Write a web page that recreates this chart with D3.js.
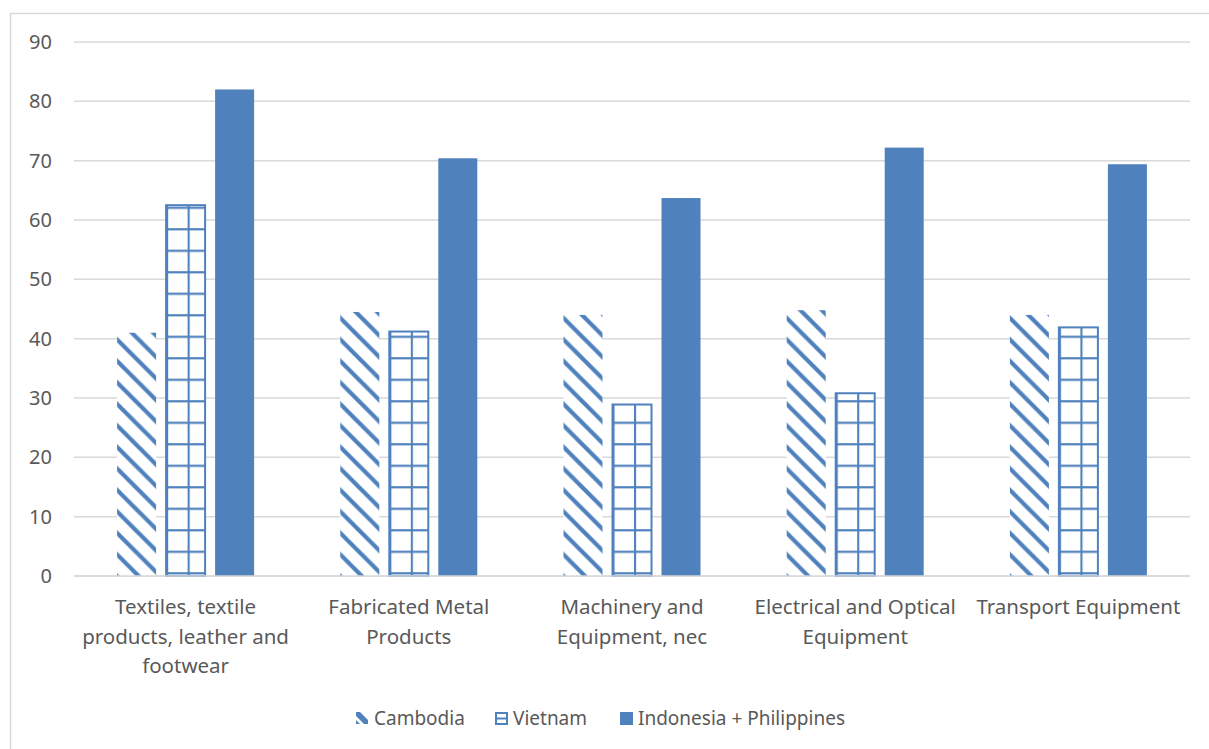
<!DOCTYPE html>
<html>
<head>
<meta charset="utf-8">
<script src="https://d3js.org/d3.v7.min.js"></script>
<style>
  body { margin: 0; background: #fff; }
  text { font-family: "Noto Sans", sans-serif; fill: #595959; }
</style>
</head>
<body>
<div id="chart-area"></div>
<script>
// data
var categories = [
	["Textiles, textile", "products, leather and", "footwear"],
	["Fabricated Metal", "Products"],
	["Machinery and", "Equipment, nec"],
	["Electrical and Optical", "Equipment"],
	["Transport Equipment"]
];
var seriesNames = ["Cambodia", "Vietnam", "Indonesia + Philippines"];
var cambodia = [41.0, 44.5, 44.0, 44.8, 44.0];
var vietnam = [62.5, 41.2, 28.9, 30.8, 41.9];
var indoPhil = [82.0, 70.4, 63.7, 72.2, 69.4];
var yTicks = [0, 10, 20, 30, 40, 50, 60, 70, 80, 90];

var blue = "#4F81BD";
var W = 1209, H = 749;
var margin = {left:74, right:19, top:42, bottom:173};
var width = W - margin.left - margin.right,
	height = H - margin.top - margin.bottom;

var svg = d3.select("#chart-area")
	.append("svg")
		.attr("width", W)
		.attr("height", H);

// patterns
var defs = svg.append("defs");
var P = 21.5;
var diag = defs.append("pattern")
	.attr("id", "diag")
	.attr("patternUnits", "userSpaceOnUse")
	.attr("width", P).attr("height", P);
diag.append("rect").attr("width", P).attr("height", P).attr("fill", "#fff");
[-P, 0, P].forEach(function(o){
	diag.append("line")
		.attr("x1", o - 2).attr("y1", -2)
		.attr("x2", o + P + 2).attr("y2", P + 2)
		.attr("stroke", blue)
		.attr("stroke-width", 4.2);
});

var grid = defs.append("pattern")
	.attr("id", "grid")
	.attr("patternUnits", "userSpaceOnUse")
	.attr("width", P).attr("height", P);
grid.append("rect").attr("width", P).attr("height", P).attr("fill", "#fff");
grid.append("line").attr("x1", 1).attr("x2", 1).attr("y1", 0).attr("y2", P)
	.attr("stroke", blue).attr("stroke-width", 2.2);
grid.append("line").attr("x1", 0).attr("x2", P).attr("y1", P - 2.7).attr("y2", P - 2.7)
	.attr("stroke", blue).attr("stroke-width", 2.2);

// outer border
svg.append("rect")
	.attr("x", 10.5).attr("y", 13.5)
	.attr("width", 1300).attr("height", 800)
	.attr("fill", "none")
	.attr("stroke", "#D9D9D9")
	.attr("stroke-width", 1.5);

var canvas = svg.append("g")
	.attr("transform", "translate(" + margin.left + ", " + margin.top + ")");

//scales
var x0 = d3.scaleBand()
	.domain(d3.range(categories.length))
	.range([0, width]);

var y = d3.scaleLinear()
	.domain([0, 90])
	.range([height, 0]);

var barW = 39, gap = 10;
var groupW = 3 * barW + 2 * gap;
var x1 = d3.scaleBand()
	.domain([0, 1, 2])
	.range([0, groupW])
	.paddingInner(gap / (barW + gap));

//gridlines
canvas.append("g")
	.selectAll("line")
	.data(yTicks)
	.enter().append("line")
		.attr("x1", 0).attr("x2", width)
		.attr("y1", function(d){ return y(d); })
		.attr("y2", function(d){ return y(d); })
		.attr("stroke", "#D9D9D9")
		.attr("stroke-width", 1.5);

//y axis labels
var yAxisCall = d3.axisLeft(y).tickValues(yTicks).tickSize(0).tickPadding(22);
var yAxis = canvas.append("g").call(yAxisCall);
yAxis.select(".domain").remove();
yAxis.selectAll("text").attr("font-size", 20).attr("font-family", null).attr("fill", "#595959");

//bars
var series = [cambodia, vietnam, indoPhil];
var fills = ["url(#diag)", "url(#grid)", blue];

series.forEach(function(vals, s){
	var g = canvas.append("g");
	vals.forEach(function(v, i){
		var bx = x0(i) + (x0.bandwidth() - groupW) / 2 + x1(s);
		var bar = g.append("g")
			.attr("transform", "translate(" + bx + ", " + y(0) + ")");
		bar.append("rect")
			.attr("x", 0)
			.attr("y", y(v) - y(0))
			.attr("width", x1.bandwidth())
			.attr("height", y(0) - y(v))
			.attr("fill", fills[s])
			.attr("stroke", s == 1 ? blue : "none")
			.attr("stroke-width", 2);
	});
});

//baseline
canvas.append("line")
	.attr("x1", 0).attr("x2", width)
	.attr("y1", y(0)).attr("y2", y(0))
	.attr("stroke", "#D9D9D9")
	.attr("stroke-width", 1.5);

//category labels
categories.forEach(function(lines, i){
	var t = canvas.append("text")
		.attr("x", x0(i) + x0.bandwidth() / 2)
		.attr("y", height + 38)
		.attr("text-anchor", "middle")
		.attr("font-size", 20.5);
	lines.forEach(function(l, k){
		t.append("tspan")
			.attr("x", x0(i) + x0.bandwidth() / 2)
			.attr("dy", k == 0 ? 0 : 29.5)
			.text(l);
	});
});

//legend
var legendX = [356, 495, 620];
var legend = svg.append("g").attr("transform", "translate(0, 718)");
seriesNames.forEach(function(name, i){
	var row = legend.append("g").attr("transform", "translate(" + legendX[i] + ", 0)");
	if (i == 0) {
		row.append("path")
			.attr("d", "M0,-6 L4,-6 L12,2 L12,6 L8,6 L0,-2 Z")
			.attr("fill", blue);
		row.append("path")
			.attr("d", "M0,2 L4,6 L0,6 Z")
			.attr("fill", blue);
	} else if (i == 1) {
		row.append("rect")
			.attr("x", 1).attr("y", -5).attr("width", 11).attr("height", 11)
			.attr("fill", "#fff").attr("stroke", blue).attr("stroke-width", 2);
		row.append("line")
			.attr("x1", 1).attr("x2", 12).attr("y1", 0.5).attr("y2", 0.5)
			.attr("stroke", blue).attr("stroke-width", 2);
	} else {
		row.append("rect")
			.attr("x", 0).attr("y", -6).attr("width", 13).attr("height", 13)
			.attr("fill", blue);
	}
	row.append("text")
		.attr("x", 18)
		.attr("y", 7)
		.attr("font-size", 19)
		.text(name);
});
</script>
</body>
</html>
